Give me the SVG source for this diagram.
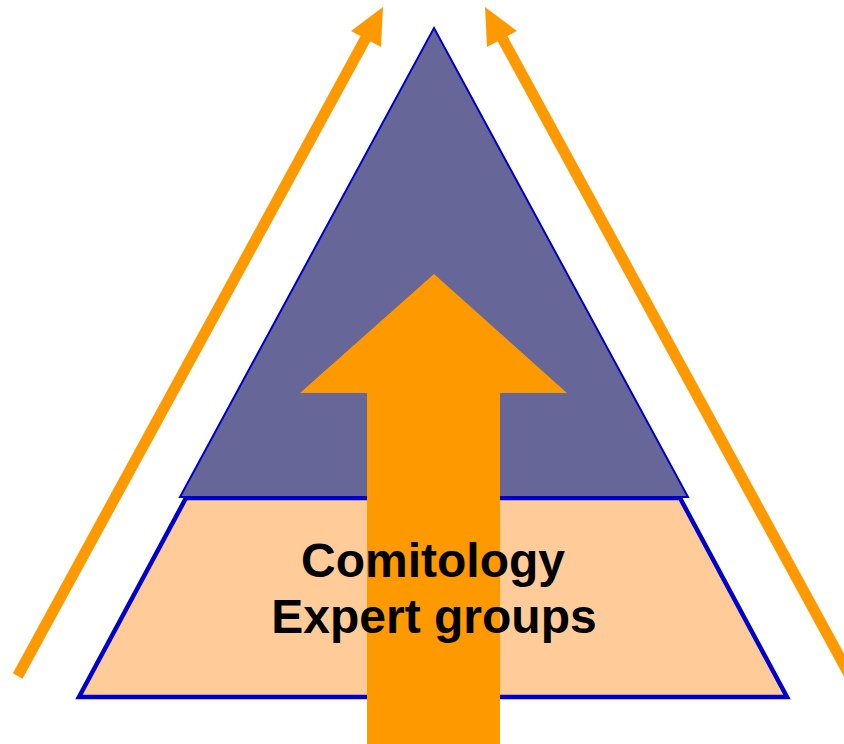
<svg xmlns="http://www.w3.org/2000/svg" width="844" height="744" viewBox="0 0 844 744">
<style>
.orange{fill:#FF9900;}
.line{stroke:#FF9900;stroke-width:11;fill:none;}
.lbl{font-family:"Liberation Sans",Arial,sans-serif;font-weight:bold;font-size:48px;fill:#000;text-anchor:middle;}
</style>
<rect width="844" height="744" fill="#FFFFFF"/>
<g id="base-trapezoid">
<polygon points="186,498 680,498 787,697 79,697" fill="#FFCC99" stroke="#0000CC" stroke-width="4.5" stroke-linejoin="miter"/>
</g>
<g id="top-triangle">
<polygon points="434,28 688,497 180,497" fill="#666699" stroke="#0000CC" stroke-width="2"/>
</g>
<g id="connectors">
<g id="left-arrow">
<line class="line" x1="17.7" y1="676" x2="368" y2="34"/>
<polygon class="orange" points="383,7 351,31 381,47"/>
</g>
<g id="right-arrow">
<line class="line" x1="850" y1="676" x2="500" y2="34"/>
<polygon class="orange" points="485,7 517,31 487,47"/>
</g>
<g id="center-arrow">
<polygon class="orange" points="434,274 567,393 500,393 500,744 367,744 367,393 300,393"/>
</g>
</g>
<g id="label">
<text class="lbl" x="433" y="577">Comitology</text>
<text class="lbl" x="434" y="633">Expert groups</text>
</g>
</svg>
